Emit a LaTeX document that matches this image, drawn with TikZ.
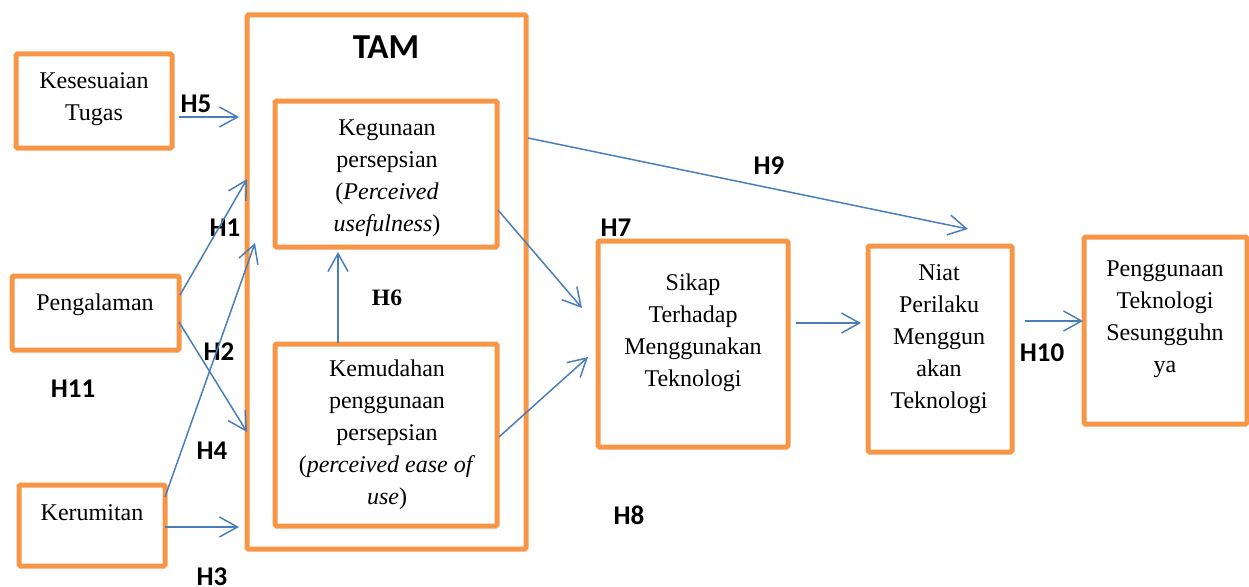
\documentclass[tikz,border=0pt]{standalone}
\usepackage{fontspec}
\setmainfont{Liberation Serif}
\newfontfamily\lblfont{Carlito}
\usetikzlibrary{arrows.meta}
\definecolor{org}{HTML}{F79646}
\definecolor{blu}{HTML}{4A7EBB}
\begin{document}
\begin{tikzpicture}[x=1pt,y=-1pt,
 box/.style={draw=org,line width=5pt,rounded corners=1.5pt,inner sep=0pt},
 txt/.style={align=center,inner sep=0pt,font=\fontsize{24}{32}\selectfont},
 hl/.style={inner sep=0pt,font=\lblfont\bfseries\fontsize{27}{30}\selectfont},
 arr/.style={draw=blu,line width=1.5pt,-{Straight Barb[length=18pt,width=20pt,line width=1.5pt]}}]
\useasboundingbox (0,0) rectangle (1249,586);

% boxes
\node[box,minimum width=156pt,minimum height=94pt] (kes) at (94,101) {};
\node[box,minimum width=167pt,minimum height=74pt] (peng) at (95.5,313) {};
\node[box,minimum width=146pt,minimum height=81pt] (ker) at (92,525.5) {};
\node[box,minimum width=279pt,minimum height=534pt] (tam) at (386.5,282) {};
\node[box,minimum width=222pt,minimum height=146pt] (keg) at (386,174) {};
\node[box,minimum width=222pt,minimum height=182pt] (kem) at (386,435) {};
\node[box,minimum width=190pt,minimum height=206pt] (sik) at (693,344) {};
\node[box,minimum width=144pt,minimum height=206pt] (niat) at (940,349) {};
\node[box,minimum width=163pt,minimum height=187pt] (pen) at (1165.5,330.5) {};

% texts
\node[txt] (kesT) at (94,99) {Kesesuaian\\Tugas};
\node[txt] (pengT) at (95,305) {Pengalaman};
\node[txt] (kerT) at (92,513) {Kerumitan};
\node[txt] (kegT) at (387,178.5) {Kegunaan\\persepsian\\(\textit{Perceived}\\\textit{usefulness})};
\node[txt] (kemT) at (387,435) {Kemudahan\\penggunaan\\persepsian\\(\textit{perceived ease of}\\\textit{use})};
\node[txt] (sikT) at (693,333) {Sikap\\Terhadap\\Menggunakan\\Teknologi};
\node[txt] (niatT) at (939,339) {Niat\\Perilaku\\Menggun\\akan\\Teknologi};
\node[txt] (penT) at (1165,319.5) {Penggunaan\\Teknologi\\Sesungguhn\\ya};

% labels
\node[inner sep=0pt,font=\lblfont\bfseries\fontsize{35}{40}\selectfont] (tamL) at (386,47) {TAM};
\node[hl] (h5) at (196,104) {H5};
\node[hl] (h1) at (225,228) {H1};
\node[hl] (h2) at (219,352) {H2};
\node[hl] (h11) at (73,389) {H11};
\node[hl] (h4) at (212,451) {H4};
\node[hl] (h3) at (212,577) {H3};
\node[inner sep=0pt,font=\bfseries\fontsize{23.5}{28}\selectfont] (h6) at (387,298) {H6};
\node[hl] (h9) at (769,166) {H9};
\node[hl] (h7) at (616,228) {H7};
\node[hl] (h8) at (629,515) {H8};
\node[hl] (h10) at (1042,353) {H10};

% connector end points
\coordinate (a5s) at (179,117);  \coordinate (a5e) at (239,117);
\coordinate (a1s) at (180,295);  \coordinate (a1e) at (247,179);
\coordinate (a4s) at (165,497);  \coordinate (a4e) at (255,243);
\coordinate (a2s) at (179,322);  \coordinate (a2e) at (247,432);
\coordinate (a3s) at (165,527);  \coordinate (a3e) at (239,527);
\coordinate (a6s) at (338,343);  \coordinate (a6e) at (338,252);
\coordinate (a7s) at (498,210);  \coordinate (a7e) at (582,308);
\coordinate (a8s) at (499,437);  \coordinate (a8e) at (588,357);
\coordinate (a9s) at (528,138);  \coordinate (a9e) at (968,229);
\coordinate (asn) at (796,323);  \coordinate (ane) at (861,323);
\coordinate (anp) at (1025,321); \coordinate (ape) at (1083,321);

\draw[arr] (a5s) -- (a5e);
\draw[arr] (a1s) -- (a1e);
\draw[arr] (a4s) -- (a4e);
\draw[arr] (a2s) -- (a2e);
\draw[arr] (a3s) -- (a3e);
\draw[arr] (a6s) -- (a6e);
\draw[arr] (a7s) -- (a7e);
\draw[arr] (a8s) -- (a8e);
\draw[arr] (a9s) -- (a9e);
\draw[arr] (asn) -- (ane);
\draw[arr] (anp) -- (ape);
\end{tikzpicture}
\end{document}
